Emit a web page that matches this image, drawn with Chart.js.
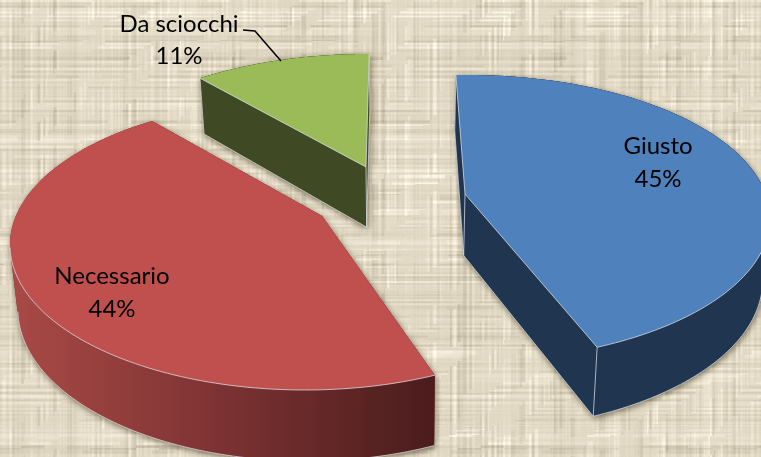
<!DOCTYPE html>
<html>
<head>
<meta charset="utf-8">
<style>html,body{margin:0;padding:0;background:#e0d8c3;overflow:hidden}canvas{display:block}</style>
<script src="https://cdn.jsdelivr.net/npm/chart.js@4"></script>
</head>
<body>
<canvas id="c" width="761" height="457"></canvas>
<script>
const categories = ['Giusto', 'Necessario', 'Da sciocchi'];
const shares = [45, 44, 11];
const topColours = ['#4f81bd', '#c0504d', '#9bbb59'];
const wallColours = ['#1f3550', '#7c3030', '#3f4a24'];

// 3D look of each exploded slice: ellipse seen in perspective + apex of the wedge
const views = [
  {apex:[465,194], c:[468,218], a:302, b:143, phi0:-92.3, warp:0.969, cutEdges:true},
  {apex:[322,216], c:[305,245], a:295, b:145, phi0:63.9,  warp:1.104, cutEdges:false},
  {apex:[366,167], c:[368,185], a:290, b:131, phi0:234.6, warp:0.90,  cutEdges:true}
];
const labelPlaces = [
  {x:658, y:154, gap:33},
  {x:112, y:284, gap:33},
  {x:179, y:32,  gap:32}
];
const leader = [[243,30],[255,31],[281,61]];
const FONT = '24px Lato, Carlito, sans-serif';
const EDGE = 'rgba(222,226,232,0.75)';

// depth projection: the lower face of the slab
const under = p => [400 + (p[0]-400)*0.98, p[1]*1.049 + 52];

function texture(ctx, w, h){
  const frac = v => v - Math.floor(v);
  const n = (i, s) => frac(Math.sin(i*12.9898 + s)*43758.5453) - 0.5;
  const cell = (a, b, s) => frac(Math.sin(a*127.1 + b*311.7 + s)*43758.5453);
  const col = [], row = [];
  for(let x=0;x<w;x++) col[x] = (n(x,1)+0.5*n(x-1,1)+0.5*n(x+1,1))/1.4;
  for(let y=0;y<h;y++) row[y] = (n(y,7)+0.5*n(y-1,7)+0.5*n(y+1,7))/1.4;
  const img = ctx.createImageData(w,h), d = img.data;
  for(let y=0;y<h;y++) for(let x=0;x<w;x++){
    const p1 = cell(Math.floor((x+5)/13), Math.floor((y+Math.floor(x/6)*5)/19), 2);
    const p2 = cell(Math.floor((x+Math.floor(y/5)*7)/23), Math.floor((y+3)/11), 9);
    const v = 46*col[x]*p1 + 46*row[y]*p2 + 4*n(x*31+y,3);
    const i = (y*w+x)*4;
    d[i]=225+v; d[i+1]=217+v*1.02; d[i+2]=196+v*1.1; d[i+3]=255;
  }
  ctx.putImageData(img,0,0);
}

function addPoly(ctx, pts){
  let area = 0;
  pts.forEach((p,i)=>{const q=pts[(i+1)%pts.length]; area += p[0]*q[1]-q[0]*p[1];});
  const list = area<0 ? pts.slice().reverse() : pts;
  list.forEach((p,i)=> i?ctx.lineTo(p[0],p[1]):ctx.moveTo(p[0],p[1]));
  ctx.closePath();
}
function polyline(ctx, pts, colour, width){
  ctx.beginPath();
  pts.forEach((p,i)=> i?ctx.lineTo(p[0],p[1]):ctx.moveTo(p[0],p[1]));
  ctx.strokeStyle = colour; ctx.lineWidth = width; ctx.lineJoin='round'; ctx.stroke();
}

function drawSlice(ctx, arc, v, i){
  const rim = [], N = 120, sweep = arc.endAngle-arc.startAngle;
  const front = [];
  for(let k=0;k<=N;k++){
    const phi = v.phi0*Math.PI/180 + sweep*(k/N)*v.warp;
    const p = [v.c[0]+v.a*Math.cos(phi), v.c[1]+v.b*Math.sin(phi)];
    rim.push(p);
    if(Math.sin(phi)>=0) front.push(p);
  }
  const apex = v.apex, apexU = under(apex), rimU = rim.map(under), frontU = front.map(under);
  const s = rim[0], e = rim[N];
  const q1 = [apex, s, under(s), apexU], q2 = [apex, e, under(e), apexU];
  const quads = [];
  for(let k=0;k<N;k++) quads.push([rim[k],rim[k+1],rimU[k+1],rimU[k]]);
  const top = [apex].concat(rim);
  const low = [apexU].concat(rimU);

  // soft drop shadow of the whole solid
  ctx.save();
  ctx.shadowColor='rgba(60,45,20,0.65)'; ctx.shadowBlur=6; ctx.shadowOffsetX=1; ctx.shadowOffsetY=2;
  ctx.fillStyle=wallColours[i];
  ctx.beginPath();
  [q1,q2,top,low].concat(quads).forEach(p=>addPoly(ctx,p));
  ctx.fill('nonzero');
  ctx.restore();

  ctx.fillStyle=wallColours[i];
  [q1,q2].forEach(p=>{ctx.beginPath();addPoly(ctx,p);ctx.fill();});
  let wall = wallColours[i];
  if(i===1){
    wall = ctx.createLinearGradient(10,0,435,0);
    wall.addColorStop(0,'#a94a47');
    wall.addColorStop(0.5,'#7c3232');
    wall.addColorStop(1,'#4a1c1c');
  }
  ctx.fillStyle=wall;
  ctx.beginPath();quads.forEach(p=>addPoly(ctx,p));ctx.fill('nonzero');

  if(frontU.length>1) polyline(ctx, frontU, EDGE, 1);
  if(v.cutEdges){
    polyline(ctx,[under(s),apexU,under(e)],EDGE,1);
    polyline(ctx,[s,under(s)],EDGE,1);
    polyline(ctx,[apex,apexU],EDGE,1);
    polyline(ctx,[e,under(e)],EDGE,1);
  }
  ctx.fillStyle=arc.options.backgroundColor;
  ctx.beginPath();addPoly(ctx,top);ctx.fill();
  if(front.length>1) polyline(ctx,front,EDGE,1);
  if(v.cutEdges) polyline(ctx,[s,apex,e],EDGE,1);
}

const solidPie = {
  id:'solidPie',
  beforeDraw(chart){ texture(chart.ctx, chart.width, chart.height); },
  beforeDatasetsDraw(chart){
    const ctx = chart.ctx, arcs = chart.getDatasetMeta(0).data;
    [2,1,0].forEach(i=>drawSlice(ctx, arcs[i], views[i], i));
    return false;
  },
  afterDraw(chart){
    const ctx = chart.ctx;
    ctx.save();
    polyline(ctx, leader, '#000', 1.5);
    ctx.fillStyle='#000'; ctx.font=FONT; ctx.textAlign='center'; ctx.textBaseline='alphabetic';
    categories.forEach((name,i)=>{
      const p = labelPlaces[i];
      ctx.fillText(name,p.x,p.y);
      ctx.fillText(shares[i]+'%',p.x,p.y+p.gap);
    });
    ctx.restore();
  }
};

new Chart(document.getElementById('c'),{
  type:'pie',
  data:{labels:categories,datasets:[{data:shares,backgroundColor:topColours,borderWidth:0}]},
  options:{
    responsive:false,animation:false,
    plugins:{legend:{display:false},tooltip:{enabled:false}}
  },
  plugins:[solidPie]
});
</script>
</body>
</html>
